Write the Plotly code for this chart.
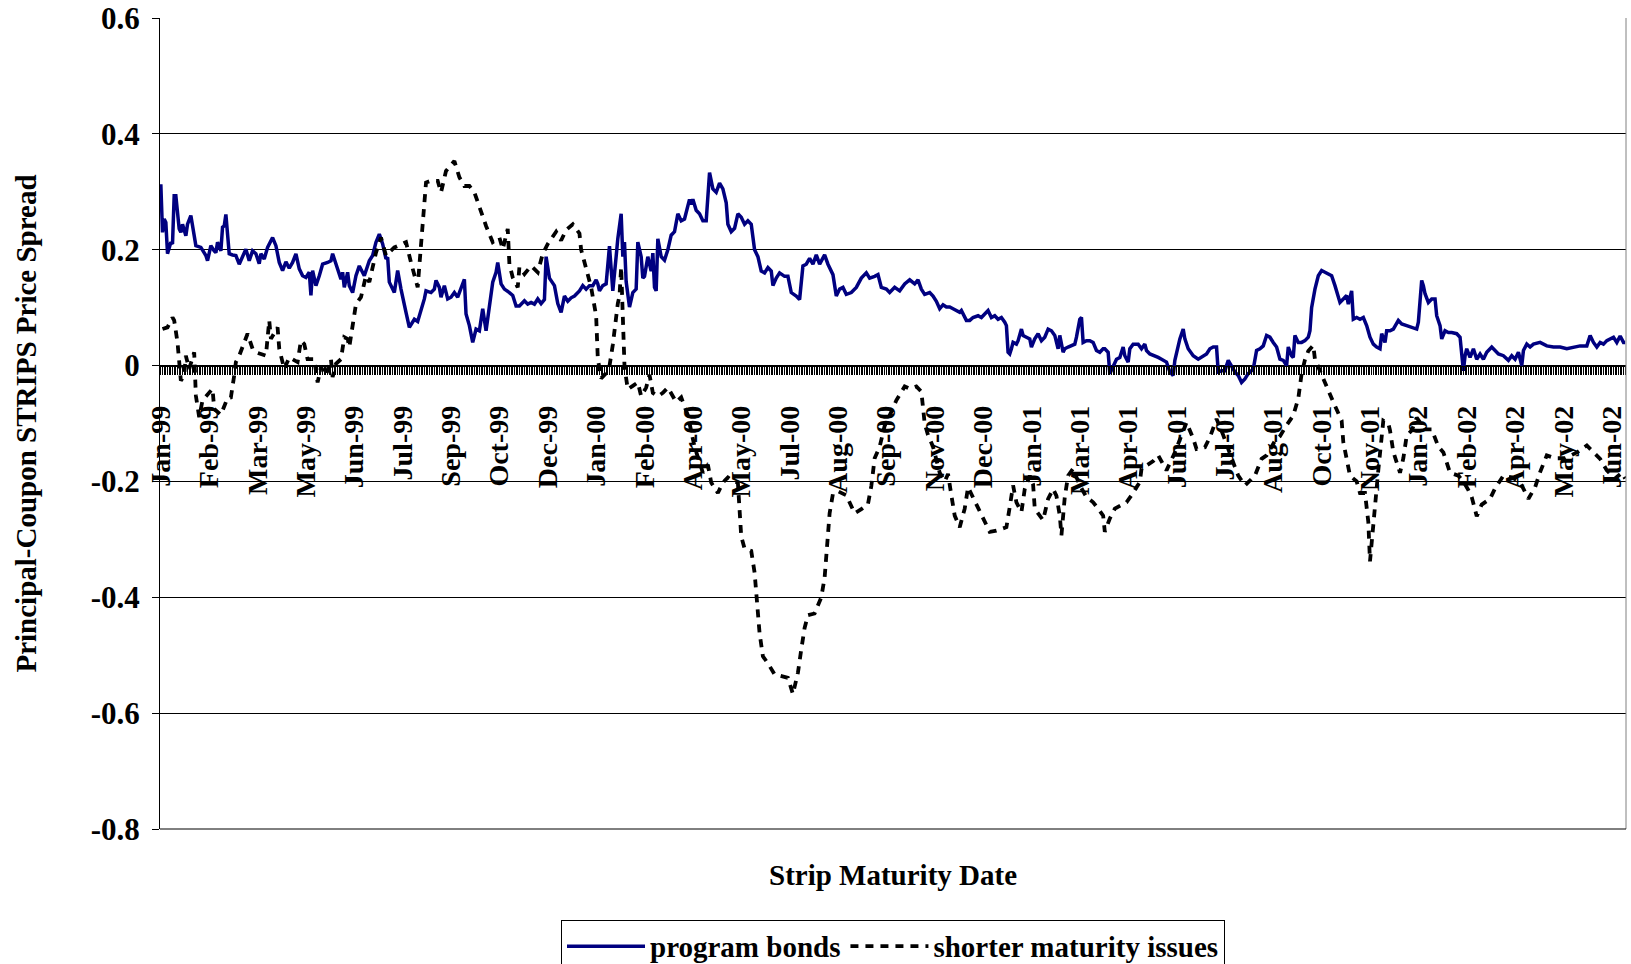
import plotly.graph_objects as go

# ---------------- data ----------------
N_CATEGORIES = 879          # number of maturity-date categories on the x axis
LABEL_STEP = 29             # a label is printed every LABEL_STEP categories

month_labels = ["Jan-99", "Feb-99", "Mar-99", "May-99", "Jun-99", "Jul-99", "Sep-99",
                "Oct-99", "Dec-99", "Jan-00", "Feb-00", "Apr-00", "May-00", "Jul-00",
                "Aug-00", "Sep-00", "Nov-00", "Dec-00", "Jan-01", "Mar-01", "Apr-01",
                "Jun-01", "Jul-01", "Aug-01", "Oct-01", "Nov-01", "Jan-02", "Feb-02",
                "Apr-02", "May-02", "Jun-02"]

y_tick_values = [-0.8, -0.6, -0.4, -0.2, 0, 0.2, 0.4, 0.6]
y_tick_labels = ["-0.8", "-0.6", "-0.4", "-0.2", "0", "0.2", "0.4", "0.6"]

# (category index, spread)
program_bonds = [
    (0, 0.313), (1, 0.230), (2, 0.253), (3, 0.247), (4, 0.193), (6, 0.213), (7, 0.210),
    (8, 0.293), (9, 0.293), (11, 0.236), (12, 0.230), (13, 0.244), (15, 0.224), (16, 0.244),
    (18, 0.259), (19, 0.241), (21, 0.207), (24, 0.204), (26, 0.195), (27, 0.190), (28, 0.181),
    (30, 0.207), (32, 0.198), (33, 0.195), (34, 0.213), (36, 0.198), (37, 0.239), (38, 0.241),
    (39, 0.261), (41, 0.193), (43, 0.191), (45, 0.190), (47, 0.175), (49, 0.190), (51, 0.201),
    (53, 0.181), (55, 0.198), (57, 0.193), (59, 0.176), (60, 0.193), (62, 0.184), (64, 0.204),
    (67, 0.221), (69, 0.207), (71, 0.178), (73, 0.164), (75, 0.179), (77, 0.168), (79, 0.178),
    (81, 0.193), (83, 0.167), (85, 0.155), (87, 0.152), (89, 0.161), (90, 0.121), (91, 0.164),
    (93, 0.138), (95, 0.155), (97, 0.175), (100, 0.178), (102, 0.181), (103, 0.193), (106, 0.167),
    (108, 0.149), (109, 0.161), (110, 0.135), (112, 0.161), (113, 0.138), (115, 0.126),
    (117, 0.155), (119, 0.172), (122, 0.155), (125, 0.181), (127, 0.190), (129, 0.213),
    (131, 0.227), (133, 0.210), (135, 0.184), (136, 0.187), (137, 0.144), (140, 0.126),
    (142, 0.164), (144, 0.132), (146, 0.101), (147, 0.092), (149, 0.066), (152, 0.080),
    (154, 0.076), (156, 0.095), (158, 0.115), (159, 0.129), (162, 0.126), (164, 0.132),
    (165, 0.147), (167, 0.135), (168, 0.118), (170, 0.138), (172, 0.115), (174, 0.118),
    (176, 0.126), (178, 0.118), (180, 0.132), (182, 0.149), (183, 0.089), (185, 0.069),
    (187, 0.040), (189, 0.063), (191, 0.060), (193, 0.098), (195, 0.060), (197, 0.106),
    (199, 0.144), (201, 0.161), (202, 0.178), (204, 0.141), (206, 0.132), (209, 0.126),
    (211, 0.121), (213, 0.103), (215, 0.103), (218, 0.112), (220, 0.106), (222, 0.109),
    (224, 0.106), (226, 0.115), (228, 0.107), (230, 0.114), (231, 0.188), (233, 0.151),
    (236, 0.138), (238, 0.107), (240, 0.092), (242, 0.120), (244, 0.111), (246, 0.117),
    (248, 0.120), (251, 0.129), (253, 0.138), (255, 0.132), (257, 0.138), (259, 0.138),
    (261, 0.148), (262, 0.141), (263, 0.129), (265, 0.138), (267, 0.141), (269, 0.206),
    (270, 0.175), (271, 0.129), (273, 0.188), (274, 0.219), (276, 0.262), (277, 0.188),
    (278, 0.213), (279, 0.145), (281, 0.101), (283, 0.126), (285, 0.132), (286, 0.213),
    (288, 0.188), (289, 0.151), (290, 0.154), (292, 0.188), (294, 0.163), (295, 0.194),
    (296, 0.135), (297, 0.129), (298, 0.219), (300, 0.188), (302, 0.182), (304, 0.200),
    (306, 0.225), (308, 0.231), (310, 0.262), (312, 0.250), (314, 0.253), (317, 0.287),
    (318, 0.278), (319, 0.287), (321, 0.268), (323, 0.262), (325, 0.250), (327, 0.250),
    (329, 0.333), (331, 0.305), (333, 0.299), (335, 0.315), (337, 0.305), (339, 0.281),
    (340, 0.244), (342, 0.231), (344, 0.237), (346, 0.262), (348, 0.256), (350, 0.244),
    (352, 0.250), (354, 0.244), (356, 0.200), (358, 0.188), (360, 0.163), (362, 0.160),
    (364, 0.169), (366, 0.163), (367, 0.138), (369, 0.151), (371, 0.160), (374, 0.154),
    (376, 0.154), (378, 0.126), (381, 0.120), (383, 0.114), (385, 0.172), (387, 0.175),
    (389, 0.185), (391, 0.175), (393, 0.191), (395, 0.175), (398, 0.191), (400, 0.175),
    (403, 0.157), (405, 0.120), (407, 0.132), (409, 0.135), (411, 0.123), (414, 0.126),
    (417, 0.135), (420, 0.151), (423, 0.160), (425, 0.151), (428, 0.154), (430, 0.157),
    (432, 0.135), (435, 0.132), (437, 0.126), (440, 0.135), (443, 0.129), (446, 0.141),
    (449, 0.148), (452, 0.141), (454, 0.148), (456, 0.132), (458, 0.123), (461, 0.126),
    (463, 0.120), (465, 0.111), (467, 0.098), (469, 0.105), (471, 0.101), (473, 0.101),
    (475, 0.098), (477, 0.095), (479, 0.092), (480, 0.095), (483, 0.078), (485, 0.078),
    (487, 0.083), (490, 0.086), (492, 0.083), (494, 0.089), (496, 0.095), (498, 0.083),
    (500, 0.086), (502, 0.080), (504, 0.083), (506, 0.075), (507, 0.069), (508, 0.023),
    (509, 0.020), (510, 0.029), (511, 0.040), (513, 0.037), (514, 0.043), (516, 0.063),
    (517, 0.052), (519, 0.049), (521, 0.046), (522, 0.032), (524, 0.046), (526, 0.055),
    (528, 0.043), (530, 0.049), (532, 0.063), (534, 0.060), (536, 0.052), (538, 0.029),
    (539, 0.052), (541, 0.023), (542, 0.029), (544, 0.032), (546, 0.035), (548, 0.037),
    (549, 0.049), (551, 0.080), (552, 0.083), (553, 0.040), (555, 0.043), (557, 0.043),
    (559, 0.040), (561, 0.026), (563, 0.023), (565, 0.029), (566, 0.029), (568, 0.023),
    (569, -0.014), (571, -0.003), (573, 0.011), (575, 0.014), (577, 0.032), (578, 0.017),
    (580, 0.006), (581, 0.029), (583, 0.037), (586, 0.037), (588, 0.029), (590, 0.037),
    (591, 0.026), (593, 0.020), (596, 0.017), (598, 0.014), (600, 0.011), (603, 0.006),
    (605, -0.011), (607, -0.017), (608, 0.009), (610, 0.034), (611, 0.046), (613, 0.063),
    (614, 0.046), (616, 0.029), (619, 0.017), (622, 0.011), (625, 0.017), (627, 0.020),
    (629, 0.029), (631, 0.032), (633, 0.032), (634, -0.011), (636, -0.009), (638, -0.009),
    (640, 0.009), (642, 0.000), (644, -0.011), (646, -0.017), (648, -0.029), (650, -0.023),
    (652, -0.014), (655, -0.006), (657, 0.026), (659, 0.029), (661, 0.034), (663, 0.052),
    (665, 0.049), (667, 0.040), (669, 0.032), (671, 0.011), (673, 0.009), (675, 0.000),
    (676, 0.032), (678, 0.017), (679, 0.014), (680, 0.052), (682, 0.040), (684, 0.040),
    (686, 0.043), (688, 0.049), (689, 0.060), (690, 0.100), (691, 0.121), (692, 0.132),
    (694, 0.155), (696, 0.164), (698, 0.161), (700, 0.158), (702, 0.155), (704, 0.138),
    (706, 0.115), (707, 0.109), (709, 0.115), (711, 0.121), (712, 0.106), (714, 0.129),
    (715, 0.080), (717, 0.083), (719, 0.080), (721, 0.083), (723, 0.069), (725, 0.049),
    (727, 0.037), (729, 0.032), (731, 0.029), (732, 0.055), (734, 0.040), (735, 0.060),
    (737, 0.060), (739, 0.063), (742, 0.078), (744, 0.072), (747, 0.069), (750, 0.066),
    (753, 0.063), (754, 0.075), (756, 0.147), (757, 0.138), (758, 0.124), (760, 0.109),
    (762, 0.115), (764, 0.115), (765, 0.086), (767, 0.069), (768, 0.046), (770, 0.060),
    (772, 0.057), (774, 0.057), (777, 0.055), (779, 0.049), (781, -0.009), (782, 0.017),
    (783, 0.029), (785, 0.014), (787, 0.029), (789, 0.011), (791, 0.020), (793, 0.011),
    (795, 0.023), (798, 0.032), (800, 0.026), (802, 0.020), (805, 0.017), (808, 0.009),
    (810, 0.017), (812, 0.011), (814, 0.023), (816, 0.000), (817, 0.026), (819, 0.037),
    (821, 0.032), (823, 0.037), (827, 0.040), (831, 0.034), (835, 0.032), (839, 0.032),
    (843, 0.029), (847, 0.032), (851, 0.034), (855, 0.034), (857, 0.052), (859, 0.040),
    (861, 0.032), (863, 0.040), (865, 0.037), (867, 0.043), (869, 0.046), (871, 0.049),
    (873, 0.040), (875, 0.051), (877, 0.040), (878, 0.040),
]

shorter_maturity = [
    (1, 0.063), (4, 0.066), (7, 0.083), (8, 0.078), (10, 0.040), (11, 0.006), (12, -0.026),
    (14, -0.017), (15, 0.017), (17, -0.006), (20, 0.023), (21, -0.052), (23, -0.089),
    (25, -0.060), (28, -0.049), (31, -0.040), (32, -0.075), (36, -0.085), (40, -0.056),
    (42, -0.055), (44, -0.017), (45, 0.006), (47, 0.017), (52, 0.055), (55, 0.029),
    (57, 0.023), (63, 0.017), (64, 0.043), (65, 0.078), (66, 0.046), (70, 0.066), (71, 0.029),
    (74, -0.006), (77, 0.014), (82, 0.006), (84, 0.043), (86, 0.037), (88, 0.011), (92, 0.011),
    (94, -0.029), (96, -0.003), (99, -0.017), (102, 0.011), (103, -0.020), (105, 0.003),
    (108, 0.011), (110, 0.049), (112, 0.046), (113, 0.032), (115, 0.069), (117, 0.106),
    (120, 0.118), (123, 0.155), (125, 0.144), (129, 0.195), (132, 0.221), (135, 0.190),
    (140, 0.204), (147, 0.213), (150, 0.178), (154, 0.135), (155, 0.172), (156, 0.207),
    (157, 0.241), (158, 0.279), (159, 0.316), (162, 0.319), (166, 0.319), (168, 0.299),
    (171, 0.336), (176, 0.353), (179, 0.325), (182, 0.310), (185, 0.310), (188, 0.299),
    (191, 0.273), (195, 0.241), (199, 0.213), (203, 0.221), (205, 0.201), (208, 0.236),
    (209, 0.175), (211, 0.152), (214, 0.135), (215, 0.170), (218, 0.158), (222, 0.172),
    (226, 0.161), (229, 0.193), (232, 0.210), (237, 0.231), (240, 0.216), (243, 0.234),
    (247, 0.244), (251, 0.228), (252, 0.200), (255, 0.169), (258, 0.135), (261, 0.086),
    (262, 0.012), (264, -0.022), (267, -0.013), (269, -0.001), (271, 0.036), (274, 0.107),
    (275, 0.120), (276, 0.170), (277, 0.070), (278, 0.000), (279, -0.022), (280, -0.041),
    (283, -0.035), (286, -0.029), (288, -0.053), (291, -0.038), (293, -0.016), (295, -0.047),
    (298, -0.053), (301, -0.047), (304, -0.038), (309, -0.063), (312, -0.055), (316, -0.086),
    (320, -0.140), (325, -0.185), (328, -0.171), (330, -0.202), (334, -0.220), (337, -0.202),
    (340, -0.193), (343, -0.199), (346, -0.202), (347, -0.258), (348, -0.295), (350, -0.316),
    (354, -0.320), (356, -0.357), (357, -0.394), (358, -0.431), (359, -0.462), (361, -0.502),
    (364, -0.514), (368, -0.533), (372, -0.536), (376, -0.539), (379, -0.567), (382, -0.530),
    (384, -0.490), (386, -0.453), (388, -0.431), (392, -0.428), (396, -0.400), (398, -0.366),
    (399, -0.329), (400, -0.292), (401, -0.255), (403, -0.221), (406, -0.217), (411, -0.224),
    (416, -0.255), (420, -0.248), (424, -0.239), (426, -0.208), (428, -0.160), (431, -0.140),
    (434, -0.104), (438, -0.080), (441, -0.060), (446, -0.036), (449, -0.040), (453, -0.036),
    (456, -0.045), (458, -0.100), (460, -0.120), (463, -0.140), (467, -0.185), (470, -0.200),
    (472, -0.187), (474, -0.224), (476, -0.259), (479, -0.279), (482, -0.247), (484, -0.210),
    (487, -0.227), (491, -0.253), (497, -0.287), (501, -0.285), (507, -0.279), (509, -0.244),
    (511, -0.207), (513, -0.236), (516, -0.253), (518, -0.213), (521, -0.190), (523, -0.205),
    (524, -0.247), (529, -0.267), (532, -0.230), (535, -0.213), (537, -0.225), (539, -0.259),
    (540, -0.293), (542, -0.227), (544, -0.190), (547, -0.178), (551, -0.207), (555, -0.227),
    (559, -0.236), (562, -0.247), (565, -0.259), (566, -0.287), (569, -0.264), (572, -0.247),
    (579, -0.236), (582, -0.224), (587, -0.201), (588, -0.178), (595, -0.165), (598, -0.155),
    (603, -0.181), (608, -0.150), (612, -0.120), (615, -0.098), (619, -0.126), (621, -0.144),
    (626, -0.141), (629, -0.124), (633, -0.092), (637, -0.120), (642, -0.160), (646, -0.190),
    (650, -0.207), (656, -0.190), (660, -0.161), (663, -0.155), (668, -0.130), (671, -0.122),
    (675, -0.103), (679, -0.086), (682, -0.057), (684, -0.014), (686, 0.010), (688, 0.025),
    (691, 0.035), (692, 0.011), (695, -0.009), (700, -0.045), (703, -0.063), (708, -0.095),
    (709, -0.132), (711, -0.161), (713, -0.190), (717, -0.200), (719, -0.220), (722, -0.220),
    (724, -0.270), (725, -0.338), (727, -0.270), (730, -0.180), (733, -0.095), (736, -0.100),
    (737, -0.112), (739, -0.149), (743, -0.185), (745, -0.160), (747, -0.121), (750, -0.112),
    (753, -0.090), (758, -0.110), (762, -0.110), (766, -0.140), (769, -0.150), (773, -0.185),
    (778, -0.190), (781, -0.200), (784, -0.215), (786, -0.227), (789, -0.260), (792, -0.240),
    (797, -0.230), (800, -0.212), (805, -0.190), (810, -0.193), (815, -0.201), (820, -0.230),
    (824, -0.210), (827, -0.184), (831, -0.155), (836, -0.160), (842, -0.160), (849, -0.150),
    (855, -0.138), (859, -0.150), (863, -0.161), (867, -0.181), (872, -0.195), (876, -0.185),
    (878, -0.195),
]

# ---------------- figure ----------------
FONT = "Liberation Serif"
pb_x = [p[0] for p in program_bonds]
pb_y = [p[1] for p in program_bonds]
sm_x = [p[0] for p in shorter_maturity]
sm_y = [p[1] for p in shorter_maturity]

label_positions = [k * LABEL_STEP for k in range(len(month_labels))]
y_min, y_max = y_tick_values[0], y_tick_values[-1]
zero_position = (0 - y_min) / (y_max - y_min)

fig = go.Figure()
fig.add_trace(go.Scatter(x=pb_x, y=pb_y, mode="lines", name="program bonds",
                         line=dict(color="#000080", width=3.5)))
fig.add_trace(go.Scatter(x=sm_x, y=sm_y, mode="lines", name="shorter maturity issues",
                         line=dict(color="black", width=3.8, dash="8px,7px")))

tick_font = dict(family=FONT, size=28, color="black", weight="bold")
ytick_font = dict(family=FONT, size=31, color="black", weight="bold")
title_font = dict(family=FONT, size=29, color="black", weight="bold")

fig.update_layout(
    width=1631, height=964,
    margin=dict(l=160, r=5, t=18, b=135, autoexpand=False),
    paper_bgcolor="white", plot_bgcolor="white",
    font=title_font,
    showlegend=True,
    legend=dict(orientation="h", x=0.5, xanchor="center", y=-0.112, yanchor="top",
                bordercolor="black", borderwidth=1, font=title_font, bgcolor="white",
                itemwidth=78),
    xaxis=dict(
        range=[-0.5, N_CATEGORIES - 0.5], anchor="free", position=zero_position,
        tickmode="array", tickvals=label_positions, ticktext=month_labels,
        tickangle=-90, ticks="outside", ticklen=8, tickcolor="black", tickwidth=1,
        ticklabelstandoff=20, tickfont=tick_font,
        showline=True, linecolor="black", linewidth=1,
        showgrid=False, zeroline=False,
        minor=dict(tickmode="linear", tick0=0, dtick=1, ticks="outside", ticklen=8,
                   tickcolor="black", tickwidth=1, showgrid=False),
    ),
    yaxis=dict(
        range=[y_min, y_max], tickmode="array", tickvals=y_tick_values, ticktext=y_tick_labels,
        showgrid=True, gridcolor="black", gridwidth=1, zeroline=False,
        showline=True, linecolor="black", linewidth=1,
        ticks="outside", ticklen=7, tickcolor="black", tickfont=ytick_font,
        ticklabelstandoff=6,
        title=dict(text="Principal-Coupon STRIPS Price Spread", font=title_font, standoff=45),
    ),
    annotations=[dict(text="Strip Maturity Date", xref="paper", yref="paper",
                      x=0.5, y=-0.0566, xanchor="center", yanchor="middle",
                      showarrow=False, font=title_font)],
    shapes=[dict(type="line", xref="paper", yref="paper", x0=1, x1=1, y0=0, y1=1,
                 line=dict(color="#808080", width=1)),
            dict(type="line", xref="paper", yref="paper", x0=0, x1=1, y0=0, y1=0,
                 line=dict(color="black", width=1))],
)

fig.write_html("out.html",
               config={"displayModeBar": False},
               post_script="document.body.style.margin='0px';"
                           "document.body.style.overflow='hidden';")
